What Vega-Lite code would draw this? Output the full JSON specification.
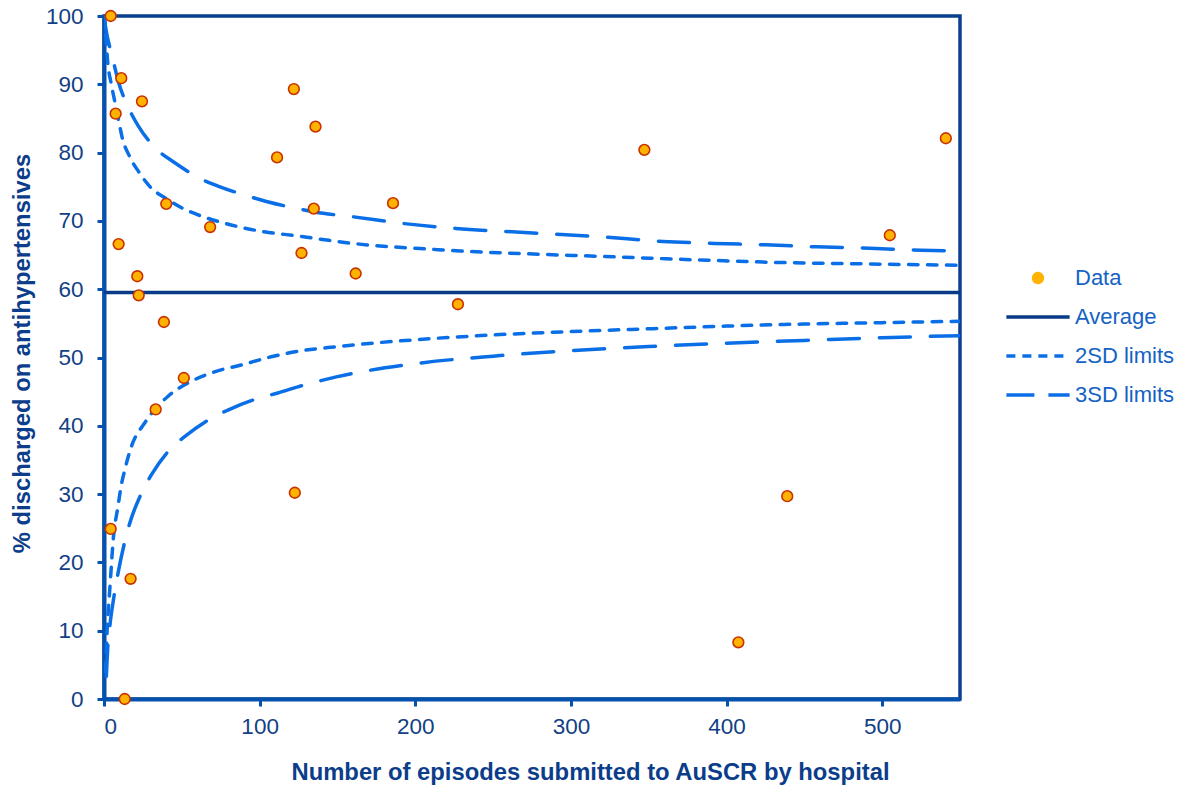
{
  "$schema": "https://vega.github.io/schema/vega-lite/v6.json",
  "width": 856,
  "height": 683,
  "autosize": {"type": "none"},
  "padding": {"left": 104, "top": 16, "right": 224, "bottom": 91},
  "background": "white",
  "config": {
    "font": "Liberation Sans",
    "view": {"stroke": "#083F8E", "strokeWidth": 3.5},
    "axis": {
      "grid": false,
      "domainColor": "#0451AE",
      "domainWidth": 4,
      "tickColor": "#0451AE",
      "tickWidth": 3,
      "tickSize": 7,
      "labelFont": "Liberation Sans",
      "labelFontSize": 22.5,
      "labelColor": "#123F85",
      "titleFont": "Liberation Sans",
      "titleFontSize": 23.8,
      "titleFontWeight": "bold",
      "titleColor": "#0B3D8A"
    }
  },
  "datasets": {
    "hospitals": [
      {"n": 4.3, "pct": 100},
      {"n": 11.1, "pct": 90.9},
      {"n": 24.4, "pct": 87.5},
      {"n": 7.5, "pct": 85.7},
      {"n": 40, "pct": 72.5},
      {"n": 68.2, "pct": 69.1},
      {"n": 9.4, "pct": 66.6},
      {"n": 21.4, "pct": 61.9},
      {"n": 22.3, "pct": 59.1},
      {"n": 38.5, "pct": 55.2},
      {"n": 51.3, "pct": 47.0},
      {"n": 33.2, "pct": 42.4},
      {"n": 4.3, "pct": 24.9},
      {"n": 17.1, "pct": 17.6},
      {"n": 13.3, "pct": 0},
      {"n": 111.2, "pct": 79.3},
      {"n": 122, "pct": 89.3},
      {"n": 135.9, "pct": 83.8},
      {"n": 134.8, "pct": 71.8},
      {"n": 126.9, "pct": 65.3},
      {"n": 122.6, "pct": 30.2},
      {"n": 161.7, "pct": 62.3},
      {"n": 185.7, "pct": 72.6},
      {"n": 227.4, "pct": 57.8},
      {"n": 347.2, "pct": 80.4},
      {"n": 407.6, "pct": 8.3},
      {"n": 439, "pct": 29.7},
      {"n": 504.9, "pct": 67.9},
      {"n": 540.9, "pct": 82.1}
    ],
    "curves": [
      {"series": "Average", "side": "avg", "n": 0, "v": 59.5},
      {"series": "Average", "side": "avg", "n": 550, "v": 59.5},

      {"series": "2SD limits", "side": "up2", "n": 0, "v": 100},
      {"series": "2SD limits", "side": "up2", "n": 0.8, "v": 98},
      {"series": "2SD limits", "side": "up2", "n": 2.5, "v": 93},
      {"series": "2SD limits", "side": "up2", "n": 4.7, "v": 90},
      {"series": "2SD limits", "side": "up2", "n": 6.9, "v": 87.5},
      {"series": "2SD limits", "side": "up2", "n": 9.4, "v": 84.7},
      {"series": "2SD limits", "side": "up2", "n": 11.8, "v": 82.1},
      {"series": "2SD limits", "side": "up2", "n": 16.3, "v": 79.5},
      {"series": "2SD limits", "side": "up2", "n": 22.9, "v": 77.0},
      {"series": "2SD limits", "side": "up2", "n": 30.4, "v": 74.8},
      {"series": "2SD limits", "side": "up2", "n": 39, "v": 73.4},
      {"series": "2SD limits", "side": "up2", "n": 51.8, "v": 71.7},
      {"series": "2SD limits", "side": "up2", "n": 60.3, "v": 70.9},
      {"series": "2SD limits", "side": "up2", "n": 81.7, "v": 69.4},
      {"series": "2SD limits", "side": "up2", "n": 103, "v": 68.4},
      {"series": "2SD limits", "side": "up2", "n": 124.5, "v": 67.8},
      {"series": "2SD limits", "side": "up2", "n": 143, "v": 67.2},
      {"series": "2SD limits", "side": "up2", "n": 164, "v": 66.6},
      {"series": "2SD limits", "side": "up2", "n": 185.5, "v": 66.2},
      {"series": "2SD limits", "side": "up2", "n": 207, "v": 65.9},
      {"series": "2SD limits", "side": "up2", "n": 228.5, "v": 65.6},
      {"series": "2SD limits", "side": "up2", "n": 270, "v": 65.2},
      {"series": "2SD limits", "side": "up2", "n": 320, "v": 64.8},
      {"series": "2SD limits", "side": "up2", "n": 380, "v": 64.3},
      {"series": "2SD limits", "side": "up2", "n": 436, "v": 63.9},
      {"series": "2SD limits", "side": "up2", "n": 490, "v": 63.7},
      {"series": "2SD limits", "side": "up2", "n": 550, "v": 63.5},

      {"series": "2SD limits", "side": "lo2", "n": 1, "v": 4},
      {"series": "2SD limits", "side": "lo2", "n": 2, "v": 10},
      {"series": "2SD limits", "side": "lo2", "n": 3.7, "v": 16.0},
      {"series": "2SD limits", "side": "lo2", "n": 4.7, "v": 19.4},
      {"series": "2SD limits", "side": "lo2", "n": 5.8, "v": 23.0},
      {"series": "2SD limits", "side": "lo2", "n": 9, "v": 28.2},
      {"series": "2SD limits", "side": "lo2", "n": 11.1, "v": 31.3},
      {"series": "2SD limits", "side": "lo2", "n": 13.3, "v": 33.5},
      {"series": "2SD limits", "side": "lo2", "n": 17.5, "v": 36.9},
      {"series": "2SD limits", "side": "lo2", "n": 26.1, "v": 40.4},
      {"series": "2SD limits", "side": "lo2", "n": 41, "v": 44.3},
      {"series": "2SD limits", "side": "lo2", "n": 56, "v": 46.5},
      {"series": "2SD limits", "side": "lo2", "n": 71, "v": 47.9},
      {"series": "2SD limits", "side": "lo2", "n": 88.1, "v": 48.9},
      {"series": "2SD limits", "side": "lo2", "n": 107.4, "v": 50.1},
      {"series": "2SD limits", "side": "lo2", "n": 124.5, "v": 50.9},
      {"series": "2SD limits", "side": "lo2", "n": 150, "v": 51.6},
      {"series": "2SD limits", "side": "lo2", "n": 200, "v": 52.6},
      {"series": "2SD limits", "side": "lo2", "n": 250, "v": 53.3},
      {"series": "2SD limits", "side": "lo2", "n": 300, "v": 53.8},
      {"series": "2SD limits", "side": "lo2", "n": 350, "v": 54.2},
      {"series": "2SD limits", "side": "lo2", "n": 400, "v": 54.6},
      {"series": "2SD limits", "side": "lo2", "n": 450, "v": 54.9},
      {"series": "2SD limits", "side": "lo2", "n": 500, "v": 55.1},
      {"series": "2SD limits", "side": "lo2", "n": 550, "v": 55.3},

      {"series": "3SD limits", "side": "up3", "n": 0, "v": 100},
      {"series": "3SD limits", "side": "up3", "n": 0.8, "v": 98.7},
      {"series": "3SD limits", "side": "up3", "n": 5.8, "v": 93.6},
      {"series": "3SD limits", "side": "up3", "n": 9.0, "v": 90.6},
      {"series": "3SD limits", "side": "up3", "n": 16.5, "v": 86.2},
      {"series": "3SD limits", "side": "up3", "n": 21.8, "v": 84.0},
      {"series": "3SD limits", "side": "up3", "n": 35.7, "v": 80.1},
      {"series": "3SD limits", "side": "up3", "n": 44.3, "v": 78.7},
      {"series": "3SD limits", "side": "up3", "n": 63.5, "v": 76.0},
      {"series": "3SD limits", "side": "up3", "n": 73.2, "v": 75.1},
      {"series": "3SD limits", "side": "up3", "n": 94.5, "v": 73.5},
      {"series": "3SD limits", "side": "up3", "n": 105, "v": 72.8},
      {"series": "3SD limits", "side": "up3", "n": 124.5, "v": 71.8},
      {"series": "3SD limits", "side": "up3", "n": 135.4, "v": 71.3},
      {"series": "3SD limits", "side": "up3", "n": 160, "v": 70.6},
      {"series": "3SD limits", "side": "up3", "n": 193, "v": 69.6},
      {"series": "3SD limits", "side": "up3", "n": 226, "v": 68.9},
      {"series": "3SD limits", "side": "up3", "n": 270, "v": 68.3},
      {"series": "3SD limits", "side": "up3", "n": 318, "v": 67.7},
      {"series": "3SD limits", "side": "up3", "n": 359, "v": 67.0},
      {"series": "3SD limits", "side": "up3", "n": 392, "v": 66.7},
      {"series": "3SD limits", "side": "up3", "n": 425, "v": 66.5},
      {"series": "3SD limits", "side": "up3", "n": 458, "v": 66.2},
      {"series": "3SD limits", "side": "up3", "n": 492, "v": 66.0},
      {"series": "3SD limits", "side": "up3", "n": 525, "v": 65.7},
      {"series": "3SD limits", "side": "up3", "n": 550, "v": 65.6},

      {"series": "3SD limits", "side": "lo3", "n": 1.5, "v": 3.3},
      {"series": "3SD limits", "side": "lo3", "n": 2.6, "v": 8.2},
      {"series": "3SD limits", "side": "lo3", "n": 3.7, "v": 10.6},
      {"series": "3SD limits", "side": "lo3", "n": 6.9, "v": 15.7},
      {"series": "3SD limits", "side": "lo3", "n": 9, "v": 18.4},
      {"series": "3SD limits", "side": "lo3", "n": 13.3, "v": 23.0},
      {"series": "3SD limits", "side": "lo3", "n": 16.5, "v": 25.7},
      {"series": "3SD limits", "side": "lo3", "n": 24, "v": 30.1},
      {"series": "3SD limits", "side": "lo3", "n": 30.4, "v": 32.8},
      {"series": "3SD limits", "side": "lo3", "n": 42.2, "v": 36.5},
      {"series": "3SD limits", "side": "lo3", "n": 51.8, "v": 38.4},
      {"series": "3SD limits", "side": "lo3", "n": 68.9, "v": 41.1},
      {"series": "3SD limits", "side": "lo3", "n": 79.6, "v": 42.3},
      {"series": "3SD limits", "side": "lo3", "n": 98.8, "v": 44.0},
      {"series": "3SD limits", "side": "lo3", "n": 111.7, "v": 44.8},
      {"series": "3SD limits", "side": "lo3", "n": 124.5, "v": 45.7},
      {"series": "3SD limits", "side": "lo3", "n": 150, "v": 47.2},
      {"series": "3SD limits", "side": "lo3", "n": 200, "v": 49.1},
      {"series": "3SD limits", "side": "lo3", "n": 250, "v": 50.2},
      {"series": "3SD limits", "side": "lo3", "n": 300, "v": 51.0},
      {"series": "3SD limits", "side": "lo3", "n": 350, "v": 51.6},
      {"series": "3SD limits", "side": "lo3", "n": 400, "v": 52.1},
      {"series": "3SD limits", "side": "lo3", "n": 450, "v": 52.5},
      {"series": "3SD limits", "side": "lo3", "n": 500, "v": 52.9},
      {"series": "3SD limits", "side": "lo3", "n": 550, "v": 53.2}
    ]
  },
  "encoding": {
    "x": {
      "type": "quantitative",
      "scale": {"domain": [0, 550], "nice": false, "zero": false},
      "axis": {
        "values": [0, 100, 200, 300, 400, 500],
        "title": "Number of episodes submitted to AuSCR by hospital",
        "labelPadding": 9,
        "titleX": 486,
        "titleY": 73,
        "titleBaseline": "middle",
        "titleAlign": "center"
      }
    },
    "y": {
      "type": "quantitative",
      "scale": {"domain": [0, 100], "nice": false},
      "axis": {
        "values": [0, 10, 20, 30, 40, 50, 60, 70, 80, 90, 100],
        "title": "% discharged on antihypertensives",
        "labelPadding": 14,
        "titleX": -82,
        "titleY": 337,
        "titleBaseline": "middle",
        "titleAlign": "center",
        "titleAngle": -90
      }
    }
  },
  "layer": [
    {
      "data": {"name": "curves"},
      "mark": {"type": "line", "strokeWidth": 3.5, "strokeCap": "round", "interpolate": "monotone", "clip": true},
      "encoding": {
        "x": {"field": "n", "type": "quantitative"},
        "y": {"field": "v", "type": "quantitative"},
        "detail": {"field": "side", "type": "nominal"},
        "color": {
          "field": "series",
          "type": "nominal",
          "scale": {
            "domain": ["Data", "Average", "2SD limits", "3SD limits"],
            "range": ["#FFB300", "#073B87", "#0A6FE6", "#0A6FE6"]
          },
          "legend": {
            "title": null,
            "orient": "none",
            "legendX": 923,
            "legendY": 251,
            "padding": 0,
            "labelFont": "Liberation Sans",
            "labelFontSize": 22,
            "labelColor": "#1462C4",
            "symbolSize": 100,
            "labelOffset": 26,
            "rowPadding": 17,
            "encode": {
              "symbols": {
                "update": {
                  "shape": {"signal": "datum.value === 'Data' ? 'circle' : 'stroke'"},
                  "size": {"signal": "datum.value === 'Data' ? 115 : 4000"},
                  "fill": {"signal": "datum.value === 'Data' ? '#FFB300' : 'transparent'"},
                  "stroke": {"signal": "datum.value === 'Data' ? '#C83200' : (datum.value === 'Average' ? '#073B87' : '#0A6FE6')"},
                  "strokeWidth": {"signal": "datum.value === 'Data' ? 1.6 : 3.5"},
                  "strokeDash": {"signal": "datum.value === '2SD limits' ? [9, 7] : (datum.value === '3SD limits' ? [28, 14] : [1, 0])"},
                  "opacity": {"value": 1}
                }
              }
            }
          }
        },
        "strokeDash": {
          "field": "series",
          "type": "nominal",
          "scale": {
            "domain": ["Average", "2SD limits", "3SD limits"],
            "range": [[1, 0], [9.5, 9.5], [31, 20]]
          },
          "legend": null
        }
      }
    },
    {
      "data": {"name": "hospitals"},
      "mark": {"type": "point", "filled": true, "fill": "#FFB300", "stroke": "#C83200", "strokeWidth": 1.6, "size": 115, "opacity": 1},
      "encoding": {
        "x": {"field": "n", "type": "quantitative"},
        "y": {"field": "pct", "type": "quantitative"},
        "color": {"datum": "Data"}
      }
    }
  ]
}
